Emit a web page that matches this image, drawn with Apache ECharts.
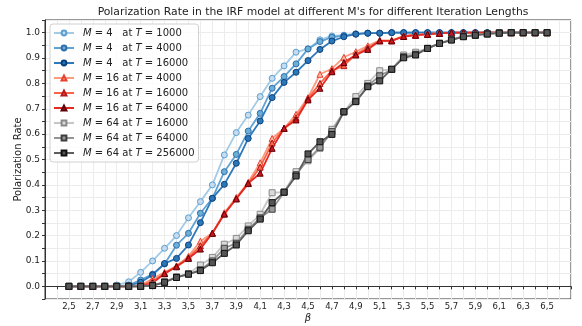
<!DOCTYPE html>
<html>
<head>
<meta charset="utf-8">
<script src="https://cdn.jsdelivr.net/npm/echarts@6/dist/echarts.min.js"></script>
<style>
  html, body { margin: 0; padding: 0; background: #fff; }
  #chart { width: 582px; height: 326px; }
</style>
</head>
<body>
<div id="chart"></div>
<script>
const betas = [2.5, 2.6, 2.7, 2.8, 2.9, 3.0, 3.1, 3.2, 3.3, 3.4, 3.5, 3.6, 3.7, 3.8, 3.9, 4.0,
  4.1, 4.2, 4.3, 4.4, 4.5, 4.6, 4.7, 4.8, 4.9, 5.0, 5.1, 5.2, 5.3, 5.4, 5.5, 5.6, 5.7, 5.8,
  5.9, 6.0, 6.1, 6.2, 6.3, 6.4, 6.5]

// M = 4
const m4t1000 = [0, 0, 0, 0, 0.005, 0.018, 0.055, 0.10, 0.15, 0.20, 0.27, 0.334, 0.40, 0.518, 0.606, 0.675,
  0.748, 0.82, 0.869, 0.923, 0.936, 0.972, 0.987, 0.99, 0.995, 0.998, 0.998, 1, 1, 1, 1, 1, 1, 1,
  1, 1, 1, 1, 1, 1, 1]
const m4t4000 = [0, 0, 0, 0, 0, 0.005, 0.025, 0.048, 0.088, 0.162, 0.209, 0.288, 0.347, 0.452, 0.52, 0.612,
  0.682, 0.781, 0.827, 0.877, 0.936, 0.965, 0.982, 0.988, 0.995, 0.998, 0.998, 1, 1, 1, 1, 1, 1, 1,
  1, 1, 1, 1, 1, 1, 1]
const m4t16000 = [0, 0, 0, 0, 0, 0.003, 0.016, 0.045, 0.09, 0.11, 0.163, 0.251, 0.347, 0.402, 0.485, 0.583,
  0.652, 0.744, 0.804, 0.844, 0.89, 0.934, 0.967, 0.984, 0.994, 0.998, 0.998, 1, 1, 1, 1, 1, 1, 1,
  1, 1, 1, 1, 1, 1, 1]

// M = 16
const m16t4000 = [0, 0, 0, 0, 0, 0, 0.005, 0.03, 0.055, 0.08, 0.118, 0.178, 0.21, 0.29, 0.35, 0.41,
  0.487, 0.583, 0.623, 0.678, 0.744, 0.836, 0.858, 0.903, 0.925, 0.948, 0.97, 0.97, 0.988, 0.992, 0.995, 0.998, 1, 1,
  1, 1, 1, 1, 1, 1, 1]
const m16t16000 = [0, 0, 0, 0, 0, 0, 0.003, 0.02, 0.05, 0.08, 0.112, 0.16, 0.21, 0.285, 0.345, 0.405,
  0.47, 0.565, 0.623, 0.665, 0.74, 0.80, 0.85, 0.87, 0.915, 0.94, 0.968, 0.968, 0.986, 0.99, 0.994, 0.998, 1, 1,
  1, 1, 1, 1, 1, 1, 1]
const m16t64000 = [0, 0, 0, 0, 0, 0, 0, 0.013, 0.05, 0.077, 0.11, 0.147, 0.209, 0.285, 0.345, 0.406,
  0.446, 0.544, 0.623, 0.656, 0.735, 0.781, 0.846, 0.882, 0.912, 0.934, 0.968, 0.968, 0.985, 0.99, 0.993, 0.997, 1, 1,
  1, 1, 1, 1, 1, 1, 1]

// M = 64
const m64t16000 = [0, 0, 0, 0, 0, 0, 0, 0.005, 0.018, 0.038, 0.05, 0.084, 0.114, 0.166, 0.189, 0.238,
  0.284, 0.369, 0.371, 0.452, 0.495, 0.544, 0.619, 0.688, 0.748, 0.80, 0.85, 0.855, 0.912, 0.923, 0.938, 0.958, 0.974, 0.986,
  0.991, 0.995, 0.998, 1, 1, 1, 1]
const m64t64000 = [0, 0, 0, 0, 0, 0, 0, 0.003, 0.016, 0.035, 0.048, 0.065, 0.10, 0.15, 0.17, 0.225,
  0.27, 0.304, 0.371, 0.44, 0.50, 0.548, 0.61, 0.688, 0.73, 0.79, 0.83, 0.855, 0.905, 0.915, 0.938, 0.958, 0.972, 0.985,
  0.99, 0.995, 1, 1, 1, 1, 1]
const m64t256000 = [0, 0, 0, 0, 0, 0, 0, 0.003, 0.016, 0.035, 0.048, 0.062, 0.093, 0.13, 0.163, 0.219,
  0.265, 0.33, 0.371, 0.435, 0.522, 0.57, 0.599, 0.688, 0.728, 0.787, 0.81, 0.856, 0.901, 0.912, 0.938, 0.958, 0.971, 0.984,
  0.99, 0.995, 0.998, 1, 1, 1, 1]

const seriesDefs = [
  { name: 'M = 4   at T = 1000', data: m4t1000, symbol: 'circle', line: '#a3cbe6', fill: '#c6dbef', edge: '#5a9fd0' },
  { name: 'M = 4   at T = 4000', data: m4t4000, symbol: 'circle', line: '#5fa2d4', fill: '#6baed6', edge: '#2f6fae' },
  { name: 'M = 4   at T = 16000', data: m4t16000, symbol: 'circle', line: '#2f79ba', fill: '#2b78b8', edge: '#0b3f7a' },
  { name: 'M = 16 at T = 4000', data: m16t4000, symbol: 'triangle', line: '#fc9a80', fill: '#fcbba1', edge: '#e8402f' },
  { name: 'M = 16 at T = 16000', data: m16t16000, symbol: 'triangle', line: '#f96447', fill: '#fb6a4a', edge: '#b5191c' },
  { name: 'M = 16 at T = 64000', data: m16t64000, symbol: 'triangle', line: '#e32a22', fill: '#c8161c', edge: '#5c0008' },
  { name: 'M = 64 at T = 16000', data: m64t16000, symbol: 'rect', line: '#c6c6c6', fill: '#dadada', edge: '#8a8a8a' },
  { name: 'M = 64 at T = 64000', data: m64t64000, symbol: 'rect', line: '#959595', fill: '#9a9a9a', edge: '#3f3f3f' },
  { name: 'M = 64 at T = 256000', data: m64t256000, symbol: 'rect', line: '#5e5e5e', fill: '#555555', edge: '#111111' }
]

const chart = echarts.init(document.getElementById('chart'))
const font = 'DejaVu Sans'

const option = {
  animation: false,
  textStyle: { fontFamily: font },
  title: {
    text: "Polarization Rate in the IRF model at different M's for different Iteration Lengths",
    left: 308,
    textAlign: 'center',
    top: 2,
    textStyle: { fontFamily: font, fontSize: 10.8, fontWeight: 'normal', color: '#222' }
  },
  grid: {
    left: 45, right: 11, top: 20, bottom: 27,
    outerBoundsMode: 'none',
    containLabel: false,
    show: true, borderColor: '#333', borderWidth: 1
  },
  legend: {
    orient: 'vertical',
    left: 50,
    top: 24,
    itemWidth: 20,
    itemHeight: 6,
    itemGap: 3,
    padding: [3, 4, 3, 3],
    backgroundColor: 'rgba(255,255,255,0.85)',
    borderColor: '#d0d0d0',
    borderWidth: 1,
    borderRadius: 3,
    textStyle: {
      fontFamily: font, fontSize: 10, color: '#222', lineHeight: 12, padding: [0, 0, 0, 4],
      rich: { i: { fontFamily: font, fontSize: 10, lineHeight: 12, fontStyle: 'italic', color: '#222' } }
    },
    formatter: name => name.replace('M', '{i|M}').replace('T', '{i|T}')
  },
  xAxis: {
    type: 'value',
    min: 2.3,
    max: 6.7,
    interval: 0.1,
    name: 'β',
    nameLocation: 'middle',
    nameGap: 14,
    nameMoveOverlap: false,
    nameTextStyle: { fontFamily: font, fontSize: 10, fontStyle: 'italic', color: '#222' },
    axisLine: { show: true, lineStyle: { color: '#333' } },
    axisTick: { show: true, length: 3, lineStyle: { color: '#333' } },
    axisLabel: {
      fontSize: 8.5, color: '#222', margin: 3, showMinLabel: true, showMaxLabel: true,
      formatter: v => {
        const k = Math.round(v * 10)
        return (k % 2 === 1 && k >= 25 && k <= 65) ? (k / 10).toFixed(1).replace('.', ',') : ''
      }
    },
    splitLine: { show: true, lineStyle: { color: '#ececec' } }
  },
  yAxis: {
    type: 'value',
    min: -0.05,
    max: 1.05,
    interval: 0.05,
    name: 'Polarization Rate',
    nameLocation: 'middle',
    nameGap: 22,
    nameMoveOverlap: false,
    nameTextStyle: { fontFamily: font, fontSize: 10, color: '#222' },
    axisLine: { show: true, lineStyle: { color: '#333' } },
    axisTick: { show: true, length: 3, lineStyle: { color: '#333' } },
    axisLabel: {
      fontSize: 9, color: '#222', margin: 5,
      formatter: v => {
        const k = Math.round(v * 100)
        return (k % 10 === 0 && k >= 0 && k <= 100) ? (k / 100).toFixed(1) : ''
      }
    },
    splitLine: { show: true, lineStyle: { color: '#ececec' } }
  },
  series: seriesDefs.map(s => ({
    name: s.name,
    type: 'line',
    data: betas.map((b, i) => [b, s.data[i]]),
    symbol: s.symbol,
    symbolSize: 6,
    showSymbol: true,
    lineStyle: { color: s.line, width: 1.8 },
    itemStyle: { color: s.fill, borderColor: s.edge, borderWidth: 1 },
    emphasis: { disabled: true }
  }))
}

chart.setOption(option)
</script>
</body>
</html>
